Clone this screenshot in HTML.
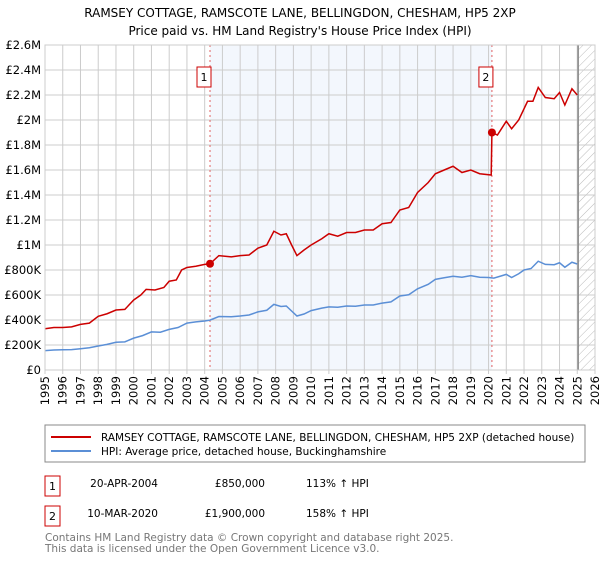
<!DOCTYPE html>
<html><head><meta charset="utf-8"><style>
body{margin:0;background:#fff;font-family:"Liberation Sans","DejaVu Sans",sans-serif;}
svg text{font-family:"DejaVu Sans","Liberation Sans",sans-serif;}
</style></head><body>
<svg id="c" width="600" height="560" viewBox="0 0 600 560" xmlns="http://www.w3.org/2000/svg">
<defs><pattern id="hatch" width="6" height="6" patternUnits="userSpaceOnUse" patternTransform="rotate(45)"><line x1="0" y1="0" x2="0" y2="6" stroke="#bbb" stroke-width="1"/></pattern></defs>
<text x="300" y="17" text-anchor="middle" font-size="12">RAMSEY COTTAGE, RAMSCOTE LANE, BELLINGDON, CHESHAM, HP5 2XP</text>
<text x="300" y="35" text-anchor="middle" font-size="12">Price paid vs. HM Land Registry's House Price Index (HPI)</text>
<g id="grid"></g><g id="marks"></g>
<rect x="45" y="425" width="540" height="37" fill="#fff" stroke="#888"/>
<line x1="51" y1="437" x2="91" y2="437" stroke="#cc0000" stroke-width="2"/>
<text x="101" y="441" font-size="10.5">RAMSEY COTTAGE, RAMSCOTE LANE, BELLINGDON, CHESHAM, HP5 2XP (detached house)</text>
<line x1="51" y1="451" x2="91" y2="451" stroke="#5b8fd6" stroke-width="2"/>
<text x="101" y="455" font-size="10.5">HPI: Average price, detached house, Buckinghamshire</text>
<rect x="45" y="476" width="15" height="20" fill="#fff" stroke="#cc0000"/>
<text x="52.5" y="490" font-size="11" text-anchor="middle">1</text>
<text x="158" y="487" font-size="10.5" text-anchor="end">20-APR-2004</text>
<text x="265" y="487" font-size="10.5" text-anchor="end">£850,000</text>
<text x="306" y="487" font-size="10.5">113% ↑ HPI</text>
<rect x="45" y="506" width="15" height="20" fill="#fff" stroke="#cc0000"/>
<text x="52.5" y="520" font-size="11" text-anchor="middle">2</text>
<text x="158" y="517" font-size="10.5" text-anchor="end">10-MAR-2020</text>
<text x="265" y="517" font-size="10.5" text-anchor="end">£1,900,000</text>
<text x="306" y="517" font-size="10.5">158% ↑ HPI</text>
<text x="45" y="541" font-size="10.5" fill="#777">Contains HM Land Registry data © Crown copyright and database right 2025.</text>
<text x="45" y="552" font-size="10.5" fill="#777">This data is licensed under the Open Government Licence v3.0.</text>
</svg>
<script>
const yTicks=[0,200000,400000,600000,800000,1000000,1200000,1400000,1600000,1800000,2000000,2200000,2400000,2600000];
const yTickLabels=["£0","£200K","£400K","£600K","£800K","£1M","£1.2M","£1.4M","£1.6M","£1.8M","£2M","£2.2M","£2.4M","£2.6M"];
const xYears=[1995,1996,1997,1998,1999,2000,2001,2002,2003,2004,2005,2006,2007,2008,2009,2010,2011,2012,2013,2014,2015,2016,2017,2018,2019,2020,2021,2022,2023,2024,2025,2026];
const hpiDates=[1995,1995.5,1996,1996.5,1997,1997.5,1998,1998.5,1999,1999.5,2000,2000.5,2001,2001.5,2002,2002.5,2003,2003.5,2004,2004.3,2004.8,2005.5,2006,2006.5,2007,2007.5,2007.9,2008.3,2008.6,2009.2,2009.6,2010,2010.6,2011,2011.5,2012,2012.5,2013,2013.5,2014,2014.5,2015,2015.5,2016,2016.6,2017,2017.5,2018,2018.5,2019,2019.5,2020,2020.3,2020.7,2021,2021.3,2021.7,2022,2022.4,2022.8,2023.2,2023.7,2024,2024.3,2024.7,2025];
const hpiValues=[155000,160000,162000,163000,170000,178000,192000,205000,222000,225000,255000,275000,305000,302000,325000,340000,375000,385000,392000,399000,428000,426000,432000,440000,465000,478000,525000,508000,512000,432000,448000,475000,495000,505000,502000,512000,510000,520000,520000,535000,545000,592000,602000,650000,685000,725000,738000,750000,742000,755000,742000,740000,735000,752000,765000,740000,770000,800000,812000,870000,845000,842000,858000,822000,862000,848000];
const saleDates=[2004.3,2020.19];
const salePrices=[850000,1900000];
const propDates=[1995,1995.5,1996,1996.5,1997,1997.5,1998,1998.5,1999,1999.5,2000,2000.4,2000.7,2001.2,2001.7,2002,2002.4,2002.7,2003,2003.5,2004,2004.3,2004.8,2005.5,2006,2006.5,2007,2007.5,2007.9,2008.3,2008.6,2008.9,2009.2,2009.6,2010,2010.6,2011,2011.5,2012,2012.5,2013,2013.5,2014,2014.5,2015,2015.5,2016,2016.6,2017,2017.5,2018,2018.5,2019,2019.5,2020.15,2020.19,2020.5,2021,2021.3,2021.7,2022.2,2022.5,2022.8,2023.2,2023.7,2024,2024.3,2024.7,2025];
const propValues=[330000,340000,340000,345000,365000,375000,430000,450000,480000,485000,560000,600000,645000,640000,660000,710000,720000,800000,820000,830000,845000,850000,915000,905000,915000,920000,975000,1000000,1110000,1080000,1090000,1000000,915000,960000,1000000,1050000,1090000,1070000,1100000,1100000,1120000,1120000,1170000,1180000,1280000,1300000,1420000,1500000,1570000,1600000,1630000,1580000,1600000,1570000,1560000,1900000,1880000,1990000,1930000,2000000,2150000,2150000,2260000,2180000,2170000,2220000,2120000,2250000,2200000];
const L=45,R=595,T=45,B=370,Y0=1995,Y1=2026,VMAX=2600000;
const sx=v=>L+(v-Y0)/(Y1-Y0)*(R-L);
const sy=v=>B-v/VMAX*(B-T);
const NS="http://www.w3.org/2000/svg";
function mk(parent,tag,attrs){const e=document.createElementNS(NS,tag);for(const k in attrs)e.setAttribute(k,attrs[k]);parent.appendChild(e);return e;}
const g=document.getElementById('grid'),m=document.getElementById('marks');
let e=mk(g,'rect',{x:sx(saleDates[0]),y:T,width:sx(saleDates[1])-sx(saleDates[0]),height:B-T,fill:'#eef3fc',opacity:0.7});


e=mk(g,'rect',{x:sx(2025.05),y:T,width:R-sx(2025.05),height:B-T,fill:'url(#hatch)'});


yTicks.forEach((v,i)=>{
 e=mk(g,'line',{x1:L,x2:R,y1:sy(v),y2:sy(v),stroke:'#ccc'});
 
 
 e=mk(g,'text',{x:L-4,y:sy(v)+4,'text-anchor':'end','font-size':11.5});
 e.textContent=yTickLabels[i];
 
 
});
xYears.forEach(y=>{
 e=mk(g,'line',{x1:sx(y),x2:sx(y),y1:T,y2:B+4,stroke:'#ccc'});
 
 
 e=mk(g,'text',{x:0,y:0,'text-anchor':'end','font-size':11.5,transform:`translate(${sx(y)+4},${B+6}) rotate(-90)`});
 e.textContent=y;
 
 
});
e=mk(g,'line',{x1:sx(2025.05),x2:sx(2025.05),y1:T,y2:B,stroke:'#888','stroke-width':1.5});


saleDates.forEach((d,i)=>{
 e=mk(m,'line',{x1:sx(d),x2:sx(d),y1:T,y2:B,stroke:'#e06060','stroke-dasharray':'2,3'});
 
 
});
e=mk(m,'polyline',{points:hpiDates.map((d,i)=>sx(d)+','+sy(hpiValues[i])).join(' '),fill:'none',stroke:'#5b8fd6','stroke-width':1.5});


e=mk(m,'polyline',{points:propDates.map((d,i)=>sx(d)+','+sy(propValues[i])).join(' '),fill:'none',stroke:'#cc0000','stroke-width':1.5});


saleDates.forEach((d,i)=>{
 e=mk(m,'circle',{cx:sx(d),cy:sy(salePrices[i]),r:4,fill:'#cc0000'});
 
 
 const bx=sx(d)-12;
 e=mk(m,'rect',{x:bx-1,y:67,width:14,height:20,fill:'#fff',stroke:'#cc0000'});
 
 
 e=mk(m,'text',{x:bx+6,y:81,'text-anchor':'middle','font-size':11});
 e.textContent=String(i+1);
 
 
});
e=mk(m,'rect',{x:L,y:T,width:R-L,height:B-T,fill:'none',stroke:'#ccc'});


</script>
</body></html>
